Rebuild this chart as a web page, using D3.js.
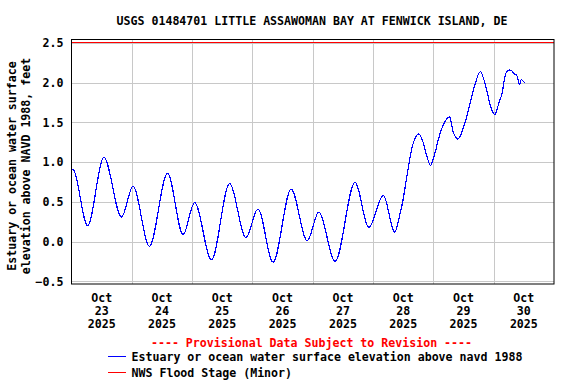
<!DOCTYPE html>
<html>
<head>
<meta charset="utf-8">
<script src="https://cdn.jsdelivr.net/npm/d3@7"></script>
<style>
  html, body { margin: 0; padding: 0; background: #fff; }
  svg { display: block; }
  text { font-family: "DejaVu Sans Mono", monospace; font-weight: bold; }
</style>
</head>
<body>
<svg id="chart" width="576" height="384"></svg>
<script>
// ---- Data ----
const title = "USGS 01484701 LITTLE ASSAWOMAN BAY AT FENWICK ISLAND, DE";
const yLabelLines = ["Estuary or ocean water surface", "elevation above NAVD 1988, feet"];
const seriesName = "Estuary or ocean water surface elevation above navd 1988";
const floodName = "NWS Flood Stage (Minor)";
const provisionalText = "---- Provisional Data Subject to Revision ----";

// observation times (hours after 2025-10-23 00:00) and water level (ft)
const obsHours = [
  0.0, 0.8, 6.4, 12.9, 19.9, 24.5, 31.0, 38.2, 44.4, 49.0, 55.7, 62.9, 69.4, 74.2,
  80.2, 87.4, 93.8, 98.4, 104.9, 112.8, 118.3, 124.1, 128.6,
  129.3, 130.6, 131.9, 133.3, 134.6, 135.9, 137.2, 138.2, 139.9, 141.2, 142.8,
  144.5, 146.2, 148.1, 150.5, 151.8, 153.8, 156.4, 158.4, 160.4, 162.7,
  165.1, 166.7, 168.4, 170.3, 171.3, 172.3, 173.0, 174.4, 175.2, 176.3,
  177.2, 178.3, 179.0, 180.0, 180.5
];
const obsLevel = [
  0.91, 0.90, 0.20, 1.06, 0.31, 0.695, -0.06, 0.86, 0.09, 0.49, -0.23, 0.73, 0.05, 0.41,
  -0.26, 0.66, 0.01, 0.37, -0.25, 0.745, 0.18, 0.58, 0.12,
  0.16, 0.33, 0.52, 0.79, 1.04, 1.23, 1.33, 1.355, 1.25, 1.10, 0.96,
  1.10, 1.31, 1.48, 1.57, 1.39, 1.29, 1.48, 1.71, 1.96, 2.14,
  1.92, 1.71, 1.60, 1.77, 1.86, 2.05, 2.13, 2.16, 2.15, 2.11,
  2.09, 1.98, 2.04, 2.01, 2.00
];

const floodStage = 2.5;
const yTicks = [-0.5, 0.0, 0.5, 1.0, 1.5, 2.0, 2.5];
const dayLabels = ["2025-10-23", "2025-10-24", "2025-10-25", "2025-10-26",
                   "2025-10-27", "2025-10-28", "2025-10-29", "2025-10-30"];
const xStart = "2025-10-23T00:00";
const xEnd = "2025-10-31T00:00";

// ---- Layout ----
const svg = d3.select("#chart");
const plot = { left: 71.5, right: 554, top: 39.5, bottom: 284 };
const parse = d3.timeParse("%Y-%m-%dT%H:%M");
const parseDay = d3.timeParse("%Y-%m-%d");
const t0 = parse(xStart);

const x = d3.scaleTime().domain([t0, parse(xEnd)]).range([plot.left, plot.right]);
const y = d3.scaleLinear().domain([-0.535, 2.545]).range([plot.bottom, plot.top]);

const data = obsHours.map((h, i) => ({ t: new Date(t0.getTime() + h * 3600e3), v: obsLevel[i] }));

// gridlines
const gridColor = "#c8c8c8";
const g = svg.append("g");
const dayGrid = d3.timeDay.range(d3.timeDay.offset(t0, 1), parse(xEnd));
g.selectAll("line.vg").data(dayGrid).join("line")
  .attr("x1", d => Math.round(x(d)) + 0.5).attr("x2", d => Math.round(x(d)) + 0.5)
  .attr("y1", plot.top).attr("y2", plot.bottom)
  .attr("stroke", gridColor).attr("stroke-width", 1);
g.selectAll("line.hg").data(yTicks).join("line")
  .attr("x1", plot.left).attr("x2", plot.right)
  .attr("y1", d => Math.round(y(d)) + 0.5).attr("y2", d => Math.round(y(d)) + 0.5)
  .attr("stroke", gridColor).attr("stroke-width", 1);

// flood stage line
svg.append("line")
  .attr("x1", plot.left).attr("x2", plot.right)
  .attr("y1", Math.round(y(floodStage)) - 0.5).attr("y2", Math.round(y(floodStage)) - 0.5)
  .attr("stroke", "#ff0000").attr("stroke-width", 1);

// data line
const line = d3.line().x(d => x(d.t)).y(d => y(d.v)).curve(d3.curveMonotoneX);
svg.append("path").datum(data)
  .attr("d", line)
  .attr("fill", "none").attr("stroke", "#0000ff").attr("stroke-width", 1.2)
  .attr("shape-rendering", "crispEdges");

// frame
svg.append("rect")
  .attr("x", plot.left).attr("y", plot.top)
  .attr("width", plot.right - plot.left).attr("height", plot.bottom - plot.top)
  .attr("fill", "none").attr("stroke", "#000").attr("stroke-width", 1);

// y axis tick labels
const fs = 11.6;
svg.append("g").selectAll("text").data(yTicks).join("text")
  .attr("x", 63.5).attr("y", d => y(d) + 4.3)
  .attr("text-anchor", "end").attr("font-size", fs)
  .text(d => d3.format(".1f")(d));

// x axis labels (centered at noon of each day)
const xl = svg.append("g");
dayLabels.forEach(s => {
  const d = parseDay(s);
  const cx = x(d3.timeHour.offset(d, 12));
  const lines = [d3.timeFormat("%b")(d), d3.timeFormat("%d")(d), d3.timeFormat("%Y")(d)];
  lines.forEach((txt, i) => {
    xl.append("text").attr("x", cx).attr("y", 302 + i * 13.2)
      .attr("text-anchor", "middle").attr("font-size", fs).text(txt);
  });
});

// y axis title
const yl = svg.append("g");
yLabelLines.forEach((txt, i) => {
  const bx = 16 + i * 14.3;
  yl.append("text").attr("transform", `translate(${bx},166) rotate(-90)`)
    .attr("text-anchor", "middle").attr("font-size", fs).text(txt);
});

// title
svg.append("text").attr("x", 312).attr("y", 24.5)
  .attr("text-anchor", "middle").attr("font-size", fs).text(title);

// provisional
svg.append("text").attr("x", 311.5).attr("y", 347)
  .attr("text-anchor", "middle").attr("font-size", fs).attr("fill", "#ff0000")
  .text(provisionalText);

// legend
const legend = [
  { name: seriesName, color: "#0000ff", y: 356.5 },
  { name: floodName, color: "#ff0000", y: 372.5 }
];
legend.forEach(l => {
  svg.append("line").attr("x1", 108).attr("x2", 126)
    .attr("y1", l.y).attr("y2", l.y).attr("stroke", l.color).attr("stroke-width", 1);
  svg.append("text").attr("x", 131.5).attr("y", l.y + 4.3)
    .attr("font-size", fs).text(l.name);
});
</script>
</body>
</html>
